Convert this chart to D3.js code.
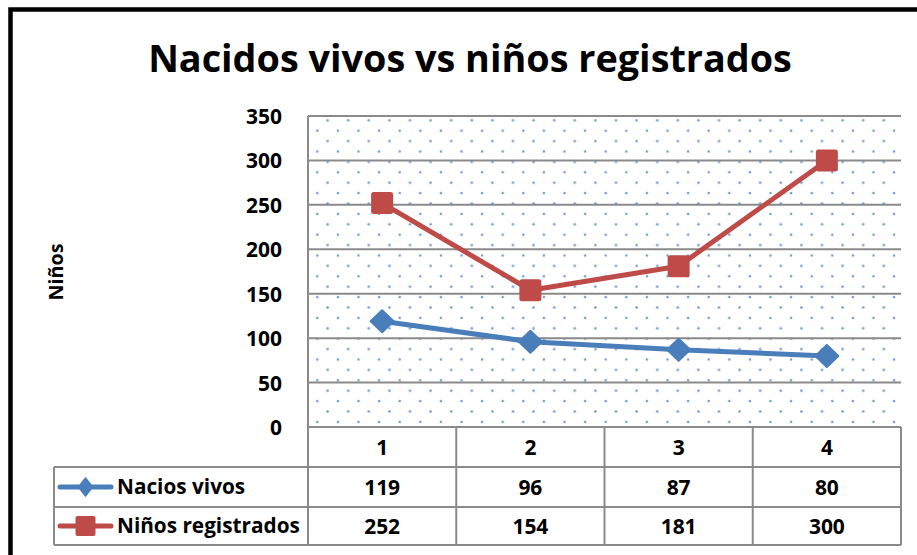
<!DOCTYPE html>
<html><head><meta charset="utf-8">
<script src="https://cdn.jsdelivr.net/npm/d3@7"></script>
<style>html,body{margin:0;padding:0;background:#fff;overflow:hidden}svg{display:block}text{font-family:"Open Sans",Lato,sans-serif;font-weight:bold;fill:#000}</style>
</head><body>
<script>
const categories = ["1","2","3","4"];
const seriesNames = ["Nacios vivos","Niños registrados"];
const nacidosVivos = [119,96,87,80];
const ninosRegistrados = [252,154,181,300];
const yTicks = [0,50,100,150,200,250,300,350];
const title = "Nacidos vivos vs niños registrados";
const yTitle = "Niños";
const colors = ["#4A7EBB","#BE4B48"];

const W=917,H=555;
const svg=d3.select("body").append("svg").attr("width",W).attr("height",H);
const plot={l:308,r:901,t:116,b:427};
const rowH=[40,40,38];

function fitSize(str,target,base){
  const t=svg.append("text").style("font-size",base+"px").text(str);
  const w=t.node().getComputedTextLength(); t.remove();
  return base*target/w;
}
const titleSize=fitSize(title,644,34);
const tickSize=fitSize("350",36,20);
const tableSize=fitSize("Niños registrados",183,20);
const yTitleSize=fitSize(yTitle,57,18);

// custom diamond symbol (half width hw, half height hh)
const diamond=(hw,hh)=>({draw(ctx){ctx.moveTo(0,-hh);ctx.lineTo(hw,0);ctx.lineTo(0,hh);ctx.lineTo(-hw,0);ctx.closePath();}});

const defs=svg.append("defs");
const pat=defs.append("pattern").attr("id","dots").attr("patternUnits","userSpaceOnUse")
  .attr("width",20.6).attr("height",20.8).attr("x",317.3).attr("y",130.7);
[[0,0],[20.6,0],[0,20.8],[20.6,20.8],[10.3,10.4]].forEach(p=>
  pat.append("circle").attr("cx",p[0]).attr("cy",p[1]).attr("r",1.3).attr("fill","#6f9ad6"));

svg.append("rect").attr("x",10.5).attr("y",9.5).attr("width",W+20).attr("height",H+20)
  .attr("fill","#fff").attr("stroke","#000").attr("stroke-width",4.5);

svg.append("text").attr("x",470).attr("y",72).attr("text-anchor","middle")
  .style("font-size",titleSize+"px").text(title);

const x=d3.scaleBand().domain(categories).range([plot.l,plot.r]);
const y=d3.scaleLinear().domain([0,350]).range([plot.b,plot.t]);

svg.append("rect").attr("x",plot.l).attr("y",plot.t).attr("width",plot.r-plot.l).attr("height",plot.b-plot.t)
  .attr("fill","url(#dots)");

const gray="#8a8a8a";
svg.append("g").selectAll("line").data(yTicks).join("line")
  .attr("x1",plot.l).attr("x2",plot.r).attr("y1",d=>y(d)).attr("y2",d=>y(d))
  .attr("stroke",gray).attr("stroke-width",2);
svg.append("line").attr("x1",plot.l).attr("x2",plot.l).attr("y1",plot.t).attr("y2",plot.b)
  .attr("stroke",gray).attr("stroke-width",2);

const yAxis=d3.axisLeft(y).tickValues(yTicks).tickSize(0).tickPadding(26);
const ga=svg.append("g").attr("transform",`translate(${plot.l},0)`).call(yAxis);
ga.select(".domain").remove();
ga.selectAll("text").attr("dy","0.36em").style("font-size",tickSize+"px")
  .style("font-family","'Open Sans'").style("font-weight","bold").attr("fill","#000");

svg.append("text").attr("transform","translate(63,272) rotate(-90)").attr("text-anchor","middle")
  .style("font-size",yTitleSize+"px").text(yTitle);

// data table
const rowsY=[plot.b];
rowH.forEach(h=>rowsY.push(rowsY[rowsY.length-1]+h));
const tg=svg.append("g");
[1,2,3].forEach(k=>tg.append("line").attr("x1",54).attr("x2",plot.r).attr("y1",rowsY[k]).attr("y2",rowsY[k]).attr("stroke",gray).attr("stroke-width",2));
tg.append("line").attr("x1",54).attr("x2",54).attr("y1",rowsY[1]).attr("y2",rowsY[3]).attr("stroke",gray).attr("stroke-width",2);
const colEdges=[plot.l].concat(categories.map(c=>x(c)+x.bandwidth()));
tg.selectAll("line.v").data(colEdges).join("line").attr("class","v")
  .attr("x1",d=>d).attr("x2",d=>d).attr("y1",rowsY[0]).attr("y2",rowsY[3]).attr("stroke",gray).attr("stroke-width",2);

tg.selectAll("text.cat").data(categories).join("text").attr("class","cat")
  .attr("x",d=>x(d)+x.bandwidth()/2).attr("y",(rowsY[0]+rowsY[1])/2).attr("dy","0.36em")
  .attr("text-anchor","middle").style("font-size",tickSize+"px").text(d=>d);
const series=[nacidosVivos,ninosRegistrados];
series.forEach((s,i)=>{
  const cy=(rowsY[i+1]+rowsY[i+2])/2;
  tg.selectAll("text.v"+i).data(s).join("text").attr("class","v"+i)
    .attr("x",(d,j)=>x(categories[j])+x.bandwidth()/2).attr("y",cy).attr("dy","0.36em")
    .attr("text-anchor","middle").style("font-size",tickSize+"px").text(d=>d);
  tg.append("line").attr("x1",60).attr("x2",111).attr("y1",cy).attr("y2",cy)
    .attr("stroke",colors[i]).attr("stroke-width",5).attr("stroke-linecap","round");
  if(i===0){
    tg.append("path").attr("d",d3.symbol(diamond(7,9))()).attr("transform",`translate(85.5,${cy})`)
      .attr("fill",colors[i]).attr("stroke",colors[i]).attr("stroke-width",1.5).attr("stroke-linejoin","round");
  } else {
    tg.append("rect").attr("x",85.5-10).attr("y",cy-10).attr("width",20).attr("height",20).attr("rx",2).attr("fill",colors[i]);
  }
  tg.append("text").attr("x",117).attr("y",cy).attr("dy","0.36em").style("font-size",tableSize+"px").text(seriesNames[i]);
});

const line=d3.line().x((d,j)=>x(categories[j])+x.bandwidth()/2).y(d=>y(d));
series.forEach((s,i)=>{
  svg.append("path").datum(s).attr("d",line).attr("fill","none").attr("stroke",colors[i]).attr("stroke-width",5).attr("stroke-linejoin","round");
});
svg.selectAll("path.dia").data(nacidosVivos).join("path").attr("class","dia")
  .attr("d",d3.symbol(diamond(11.5,11))())
  .attr("transform",(d,j)=>`translate(${x(categories[j])+x.bandwidth()/2},${y(d)})`)
  .attr("fill",colors[0]).attr("stroke",colors[0]).attr("stroke-width",2).attr("stroke-linejoin","round");
svg.selectAll("rect.sq").data(ninosRegistrados).join("rect").attr("class","sq")
  .attr("x",(d,j)=>x(categories[j])+x.bandwidth()/2-11).attr("y",d=>y(d)-11)
  .attr("width",22).attr("height",22).attr("rx",2.5).attr("fill",colors[1]);
</script>
</body></html>
